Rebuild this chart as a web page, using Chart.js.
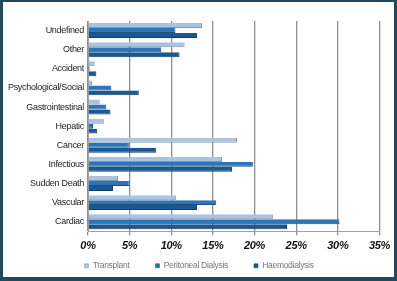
<!DOCTYPE html>
<html>
<head>
<meta charset="utf-8">
<script src="https://cdn.jsdelivr.net/npm/chart.js@4"></script>
<style>
  html, body { margin: 0; padding: 0; background: #fff; }
  #frame {
    width: 397px; height: 281px; box-sizing: border-box;
    border-style: solid; border-color: #1f4a5a;
    border-width: 2px 3px 4px 3px;
    background: #fff;
  }
</style>
</head>
<body>
<div id="frame"><canvas id="chart" width="391" height="275"></canvas></div>
<script>
const categories = ['Undefined', 'Other', 'Accident', 'Psychological/Social', 'Gastrointestinal',
    'Hepatic', 'Cancer', 'Infectious', 'Sudden Death', 'Vascular', 'Cardiac'];
const transplant = [13.7, 11.6, 0.8, 0.5, 1.4, 1.9, 17.9, 16.1, 3.6, 10.6, 22.2];
const peritoneal = [10.5, 8.8, 0.2, 2.8, 2.2, 0.6, 4.9, 19.8, 5.0, 15.4, 30.2];
const haemo = [13.1, 11.0, 1.0, 6.1, 2.7, 1.1, 8.2, 17.3, 3.0, 13.1, 23.9];
const xTicks = [0, 5, 10, 15, 20, 25, 30, 35];

const labelFont = "'Liberation Sans', Arial, sans-serif";

// tighter text + pull the legend up close to the axis
const tweaks = {
    id: 'tweaks',
    beforeInit(chart) {
        const fit = chart.legend.fit;
        chart.legend.fit = function () {
            fit.call(this);
            this.height -= 26;
        };
    },
    beforeUpdate(chart) {
        chart.ctx.letterSpacing = '-0.3px';
    },
    afterLayout(chart) {
        // only move the top, the legend clips to its own box
        chart.legend.top -= 21;
        chart.legend.left += 12;
    }
};

const ctx = document.getElementById('chart').getContext('2d');
const myChart = new Chart(ctx, {
    type: 'bar',
    data: {
        labels: categories,
        datasets: [{
            label: 'Transplant',
            data: transplant,
            backgroundColor: '#a9c3e2',
            borderColor: '#7f96b3',
            borderWidth: { right: 1, top: 0, bottom: 1, left: 0 }
        }, {
            label: 'Peritoneal Dialysis',
            data: peritoneal,
            backgroundColor: '#2e74b8',
            borderColor: '#1f4f80',
            borderWidth: { right: 1, top: 0, bottom: 1, left: 0 }
        }, {
            label: 'Haemodialysis',
            data: haemo,
            backgroundColor: '#1b5893',
            borderColor: '#123e68',
            borderWidth: { right: 1, top: 0, bottom: 1, left: 0 }
        }]
    },
    plugins: [tweaks],
    options: {
        indexAxis: 'y',
        responsive: false,
        animation: false,
        layout: { padding: { left: 0, right: 11, top: 19, bottom: 2 } },
        datasets: {
            bar: { categoryPercentage: 0.78, barPercentage: 1.0 }
        },
        scales: {
            x: {
                min: 0,
                max: 35,
                afterBuildTicks: axis => {
                    axis.ticks = xTicks.map(v => ({ value: v }));
                },
                ticks: {
                    callback: v => v + '%',
                    color: '#111',
                    padding: 4,
                    maxRotation: 0,
                    font: { family: labelFont, size: 11, style: 'italic', weight: 'bold' }
                },
                grid: {
                    color: '#8f8f8f',
                    lineWidth: 1.3,
                    drawTicks: true,
                    tickLength: 4
                },
                border: { color: '#a0a0a0', width: 1 }
            },
            y: {
                afterFit: s => { s.width = 85; },
                ticks: {
                    color: '#222',
                    padding: 4,
                    autoSkip: false,
                    font: { family: labelFont, size: 9 }
                },
                grid: { display: false, drawTicks: false },
                border: { color: '#a0a0a0', width: 1 }
            }
        },
        plugins: {
            legend: {
                position: 'bottom',
                labels: {
                    boxWidth: 4,
                    boxHeight: 4,
                    padding: 26,
                    color: '#777',
                    font: { family: labelFont, size: 8.5 }
                }
            },
            tooltip: { enabled: false }
        }
    }
});
</script>
</body>
</html>
